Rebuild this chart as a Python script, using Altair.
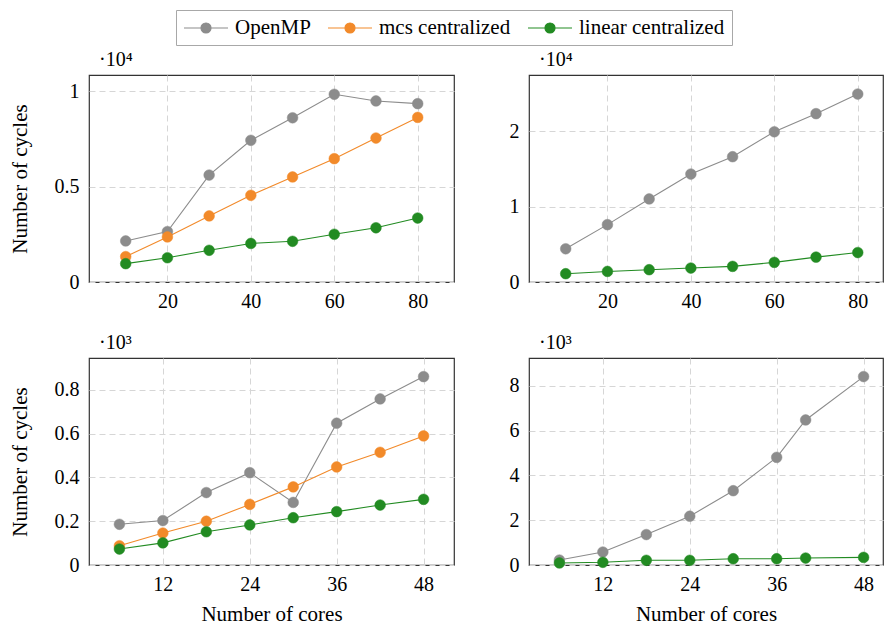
import altair as alt
import pandas as pd

FONT = "Liberation Serif, Times New Roman, serif"

series_names = ["OpenMP", "mcs centralized", "linear centralized"]
series_colors = ["#8c8c8c", "#f28a2a", "#228b22"]

cores_top = [10, 20, 30, 40, 50, 60, 70, 80]
tl_openmp = [2150, 2640, 5600, 7420, 8600, 9830, 9480, 9340]
tl_mcs = [1330, 2360, 3460, 4540, 5500, 6460, 7540, 8620]
tl_linear = [960, 1270, 1660, 2020, 2130, 2500, 2840, 3350]

tr_openmp = [4400, 7600, 11000, 14300, 16600, 19900, 22300, 24900]
tr_linear = [1100, 1400, 1630, 1850, 2070, 2600, 3300, 3900]

cores_bl = [6, 12, 18, 24, 30, 36, 42, 48]
bl_openmp = [186, 203, 331, 422, 286, 648, 759, 861]
bl_mcs = [88, 146, 200, 277, 357, 448, 515, 590]
bl_linear = [73, 101, 152, 183, 216, 244, 274, 300]

cores_br = [6, 12, 18, 24, 30, 36, 40, 48]
br_openmp = [220, 580, 1360, 2180, 3320, 4810, 6480, 8420]
br_linear = [90, 120, 210, 210, 280, 280, 310, 340]

top_xticks = [20, 40, 60, 80]
bottom_xticks = [12, 24, 36, 48]
tl_yticks = [0, 5000, 10000]
tr_yticks = [0, 10000, 20000]
bl_yticks = [0, 200, 400, 600, 800]
br_yticks = [0, 2000, 4000, 6000, 8000]

LEG_PATH = ("M-2.2,0L-0.5,0M0.5,0L2.2,0M-0.5,0A0.5,0.5,0,1,1,0.5,0"
            "A0.5,0.5,0,1,1,-0.5,0Z")

legend = alt.Legend(
    title=None, orient="none", legendX=87, legendY=-65, direction="horizontal",
    symbolType=LEG_PATH, symbolSize=400, symbolStrokeWidth=1.2, symbolOffset=12,
    labelFont=FONT, labelFontSize=21, labelColor="black", labelOffset=18,
    columnPadding=14, padding=7, strokeColor="#a8a8a8", fillColor="white",
    labelLimit=400,
)


def make_df(cores, series):
    rows = []
    for name, vals in series:
        for c, v in zip(cores, vals):
            rows.append({"cores": c, "cycles": v, "series": name})
    return pd.DataFrame(rows)


def panel(df, xdom, xticks, ydom, yticks, div, exp, width, ytitle, xtitle):
    x = alt.X("cores:Q", scale=alt.Scale(domain=xdom, nice=False, zero=False),
              axis=alt.Axis(values=xticks, labelPadding=9, titlePadding=9), title=xtitle)
    y = alt.Y("cycles:Q", scale=alt.Scale(domain=ydom, nice=False, zero=False),
              axis=alt.Axis(values=yticks, labelExpr=f"'' + (datum.value / {div})",
                            labelPadding=10, titlePadding=24),
              title=ytitle)
    sc = alt.Scale(domain=series_names, range=series_colors)
    line = alt.Chart(df).mark_line(strokeWidth=1.1).encode(
        x=x, y=y,
        stroke=alt.Stroke("series:N", scale=sc, legend=legend, sort=series_names),
    )
    pts = alt.Chart(df).mark_point(filled=True, size=115, opacity=1, strokeWidth=0.5).encode(
        x=x, y=y,
        fill=alt.Fill("series:N", scale=sc, legend=legend, sort=series_names),
        stroke=alt.Stroke("series:N", scale=sc, legend=legend, sort=series_names),
    )
    return alt.layer(line, pts).properties(
        width=width, height=207,
        title=alt.TitleParams("·10" + exp, anchor="start", frame="group", dx=10, offset=5,
                              fontSize=20, font=FONT, fontWeight="normal", color="black"),
    )


tl = panel(make_df(cores_top, [("OpenMP", tl_openmp), ("mcs centralized", tl_mcs),
                               ("linear centralized", tl_linear)]),
           [1.2, 88.7], top_xticks, [0, 10840], tl_yticks, 10000, "⁴", 365,
           "Number of cycles", None)
tr = panel(make_df(cores_top, [("OpenMP", tr_openmp), ("linear centralized", tr_linear)]),
           [1.2, 86.05], top_xticks, [0, 27420], tr_yticks, 10000, "⁴", 354, None, None)
bl = panel(make_df(cores_bl, [("OpenMP", bl_openmp), ("mcs centralized", bl_mcs),
                              ("linear centralized", bl_linear)]),
           [1.8, 52.2], bottom_xticks, [0, 946], bl_yticks, 1000, "³", 365,
           "Number of cycles", "Number of cores")
br = panel(make_df(cores_br, [("OpenMP", br_openmp), ("linear centralized", br_linear)]),
           [1.8, 50.68], bottom_xticks, [0, 9250], br_yticks, 1000, "³", 354,
           None, "Number of cores")

chart = alt.concat(tl, tr, bl, br, columns=2, spacing={"row": 76, "column": 75},
                   bounds="flush").resolve_scale(
    fill="shared", stroke="shared").resolve_legend(fill="shared", stroke="shared").properties(
    padding={"left": 8, "top": 9, "right": 0, "bottom": 0},
).configure_view(stroke="#333333", strokeWidth=1.2).configure_axis(
    labelFont=FONT, labelFontSize=20, labelColor="black",
    titleFont=FONT, titleFontSize=21, titleFontWeight="normal", titleColor="black",
    grid=True, gridColor="#d6d6d6", gridDash=[6, 4], gridWidth=1,
    ticks=False, domain=False,
)

chart.save("out.html", embed_options={"renderer": "svg", "actions": False})
